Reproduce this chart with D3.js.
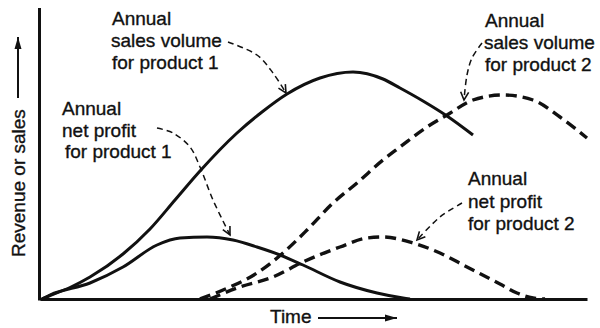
<!DOCTYPE html>
<html>
<head>
<meta charset="utf-8">
<script src="https://cdn.jsdelivr.net/npm/d3@7"></script>
<style>
  html, body { margin: 0; padding: 0; background: #fff; }
  svg { display: block; }
  text { font-family: "Liberation Sans", Arial, sans-serif; fill: #111; stroke: #111; stroke-width: 0.35px; }
</style>
</head>
<body>
<svg id="chart" width="600" height="328"></svg>
<script>
// ---- Data (time units, revenue units) ----
const sales1X  = [0.4, 2, 6, 10, 16.6, 22, 27, 32, 39.4, 44.4, 49.4, 56, 62.6, 68.6, 72, 76.6, 81.4, 86.6];
const sales1Y  = [0, 0.7, 2.3, 4.4, 9, 14, 19.8, 25.6, 33.2, 37.4, 41, 44.2, 45.4, 44, 42.2, 39.6, 36.6, 32.8];

const profit1X = [0.4, 2, 10, 16.6, 23.4, 28, 33.4, 38.6, 43.4, 48, 52.6, 60, 67.4, 72.6, 74];
const profit1Y = [0, 0.8, 3.2, 6.4, 10.8, 12.2, 12.4, 11.8, 10.4, 8.8, 6.8, 3.4, 1.2, 0.2, 0];

const sales2X  = [32, 36.6, 43.4, 48.6, 53.4, 58.6, 63.4, 68.6, 72, 77.4, 81.4, 86.6, 92.6, 98.6, 104, 109.4];
const sales2Y  = [0, 1.8, 5.2, 9.2, 13.8, 19.2, 23.2, 27.8, 30.4, 34.4, 36.8, 39.8, 40.8, 39.8, 36.4, 32.2];

const profit2X = [34, 40, 46.6, 52.6, 60, 65.4, 68.6, 74.6, 80, 85.4, 92, 95.4, 98.6, 101];
const profit2Y = [0, 2.4, 4.4, 7.4, 10.4, 12.2, 12.4, 11.2, 9.2, 6.4, 3, 1.2, 0.2, 0];

const axisLabels = ["Revenue or sales", "Time"];

const label1 = ["Annual", "sales volume", "for product 1"];
const label2 = ["Annual", "net profit", "for product 1"];
const label3 = ["Annual", "sales volume", "for product 2"];
const label4 = ["Annual", "net profit", "for product 2"];

// leader-line anchor points (data units)
const leader1 = [[37.6, 51.4], [43.4, 48.8], [46.6, 45.2], [49.2, 41.2]];
const leader2 = [[23.4, 34.2], [26.6, 33.2], [30, 30.4], [32, 26.4], [34.6, 19.8], [38, 12.8]];
const leader3 = [[88.4, 51.2], [86.4, 48.2], [85.4, 44.8], [84.8, 39.8]];
const leader4 = [[84.4, 19.2], [80, 16.4], [75.4, 11.8]];

// ---- Scales ----
const svg = d3.select("#chart");
const x = d3.scaleLinear().domain([0, 109.4]).range([40, 587]);
const y = d3.scaleLinear().domain([0, 58]).range([299, 9]);

// ---- Defs ----
const defs = svg.append("defs");
defs.append("marker")
  .attr("id", "vhead").attr("viewBox", "-10 -6 12 12")
  .attr("refX", 0).attr("refY", 0)
  .attr("markerWidth", 12).attr("markerHeight", 12)
  .attr("markerUnits", "userSpaceOnUse").attr("orient", "auto")
  .append("path").attr("d", "M-8,-4 L0,0 L-8,4")
  .attr("fill", "none").attr("stroke", "#111").attr("stroke-width", 1.6);
defs.append("marker")
  .attr("id", "fhead").attr("viewBox", "-12 -5 14 10")
  .attr("refX", 0).attr("refY", 0)
  .attr("markerWidth", 14).attr("markerHeight", 10)
  .attr("markerUnits", "userSpaceOnUse").attr("orient", "auto")
  .append("path").attr("d", "M-12,-3.5 L0,0 L-12,3.5 Z").attr("fill", "#111");

// ---- Axes ----
const xAxis = svg.append("g").attr("transform", `translate(0,${y(0)})`)
  .call(d3.axisBottom(x).tickValues([]).tickSizeOuter(0));
xAxis.select(".domain").attr("stroke", "#111").attr("stroke-width", 3);
const yAxis = svg.append("g").attr("transform", `translate(${x(0) - 0.5},0)`)
  .call(d3.axisLeft(y).tickValues([]).tickSizeOuter(0));
yAxis.select(".domain").attr("stroke", "#111").attr("stroke-width", 3)
  .attr("d", `M0,${y(58) - 1}V${y(0) + 1.5}`);

// ---- Curves ----
const curveLine = d3.line().x(d => x(d[0])).y(d => y(d[1])).curve(d3.curveMonotoneX);
const leaderLine = d3.line().x(d => x(d[0])).y(d => y(d[1])).curve(d3.curveCatmullRom.alpha(0.5));
const zip = (a, b) => a.map((v, i) => [v, b[i]]);

const series = [
  { pts: zip(sales1X, sales1Y), dash: null },
  { pts: zip(profit1X, profit1Y), dash: null },
  { pts: zip(sales2X, sales2Y), dash: "11,6" },
  { pts: zip(profit2X, profit2Y), dash: "11,6" }
];
svg.append("g").selectAll("path").data(series).join("path")
  .attr("d", d => curveLine(d.pts))
  .attr("fill", "none").attr("stroke", "#111")
  .attr("stroke-width", d => d.dash ? 3.4 : 3)
  .attr("stroke-dasharray", d => d.dash)
  .attr("stroke-linecap", "butt");

// ---- Leader lines ----
svg.append("g").selectAll("path").data([leader1, leader2, leader3, leader4]).join("path")
  .attr("d", d => leaderLine(d))
  .attr("fill", "none").attr("stroke", "#111").attr("stroke-width", 1.5)
  .attr("stroke-dasharray", "6,4")
  .attr("marker-end", "url(#vhead)");

// ---- Annotation text ----
const labels = [
  { lines: label1, ax: 14.4, ay: 54.8, step: 22, indent: [0, -1, 0] },
  { lines: label2, ax: 4.4, ay: 36.8, step: 21.7, indent: [0, 0, 3] },
  { lines: label3, ax: 89.0, ay: 54.4, step: 22, indent: [0, -1, 0] },
  { lines: label4, ax: 85.6, ay: 22.8, step: 22.5, indent: [0, 0, 0] }
];
labels.forEach(l => {
  const t = svg.append("text").attr("font-size", 19);
  l.lines.forEach((s, i) => {
    t.append("tspan").attr("x", x(l.ax) + l.indent[i])
      .attr("y", y(l.ay) + i * l.step).text(s);
  });
});

// ---- Axis titles ----
svg.append("text").attr("font-size", 19)
  .attr("transform", `translate(25,257) rotate(-90)`)
  .text(axisLabels[0]);
svg.append("line").attr("x1", 18).attr("y1", 98).attr("x2", 18).attr("y2", 37)
  .attr("stroke", "#111").attr("stroke-width", 2).attr("marker-end", "url(#fhead)");

svg.append("text").attr("font-size", 19).attr("x", 270).attr("y", 323).text(axisLabels[1]);
svg.append("line").attr("x1", 318).attr("y1", 318).attr("x2", 397).attr("y2", 318)
  .attr("stroke", "#111").attr("stroke-width", 2).attr("marker-end", "url(#fhead)");
</script>
</body>
</html>
